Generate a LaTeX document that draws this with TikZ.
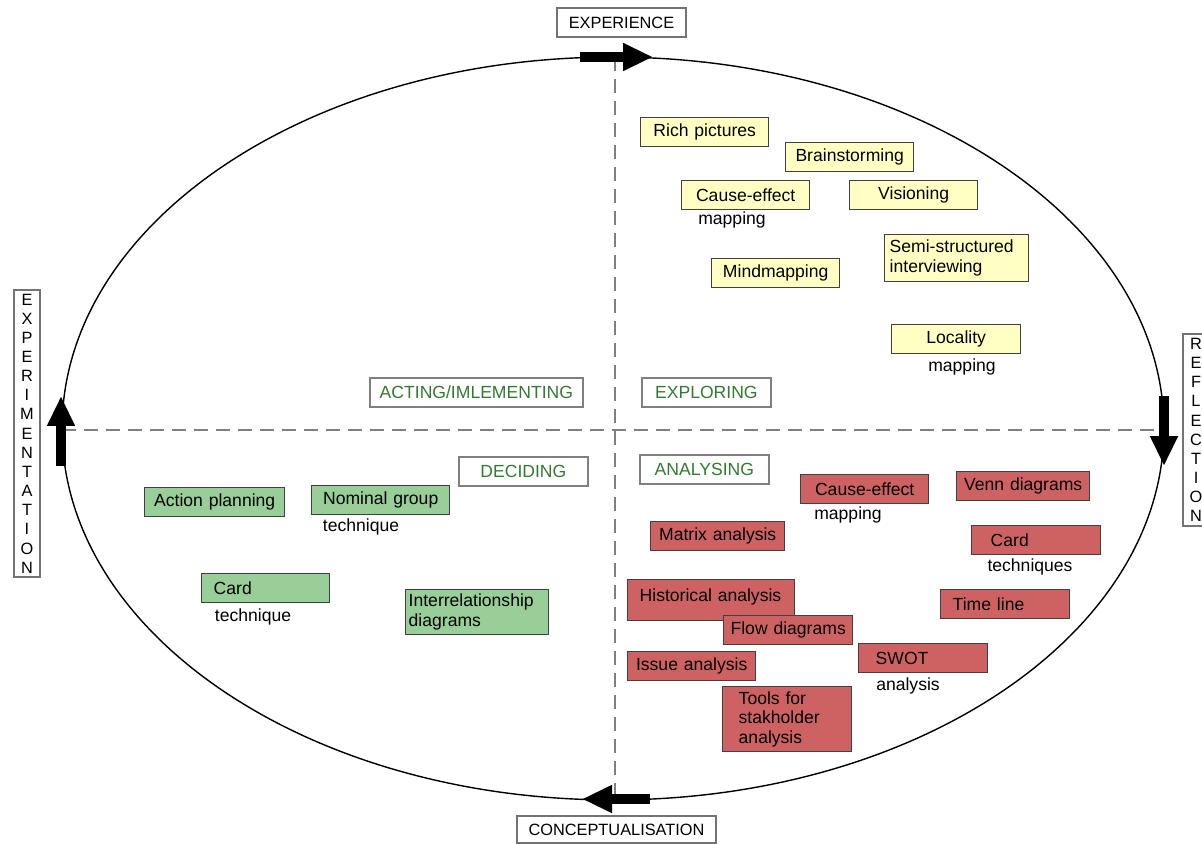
\documentclass[tikz,border=0pt]{standalone}
\usepackage{fontspec}
\setmainfont{Liberation Sans}
\usepackage{tikz}
\usetikzlibrary{positioning, arrows.meta}
\definecolor{yellowbox}{RGB}{255,255,196}
\definecolor{greenbox}{RGB}{152,206,152}
\definecolor{redbox}{RGB}{206,98,98}
\definecolor{stagegreen}{RGB}{50,122,50}
\tikzstyle{Tool} = [rectangle, draw=black!75, line width=0.8pt, anchor=north west, minimum height=0.58cm, inner xsep=0.1cm, inner ysep=0.05cm, font=\fontsize{10}{11.2}\selectfont]
\tikzstyle{Explore} = [Tool, fill=yellowbox]
\tikzstyle{Decide} = [Tool, fill=greenbox]
\tikzstyle{Analyse} = [Tool, fill=redbox]
\tikzstyle{Stage} = [rectangle, draw=black!50, line width=1pt, fill=white, anchor=north west, minimum height=0.58cm, inner xsep=0.1cm, text=stagegreen, font=\fontsize{10}{11}\selectfont]
\tikzstyle{Axis} = [rectangle, draw=black!55, line width=0.9pt, fill=white, inner sep=0.08cm, font=\fontsize{9.3}{10.9}\selectfont]
\tikzstyle{Note} = [inner sep=0pt, font=\fontsize{10}{11}\selectfont]
\tikzstyle{Cycle} = [line width=0.2cm, -{Triangle[length=0.6cm, width=0.52cm]}]

\begin{document}
\begin{tikzpicture}[x=0.02cm, y=-0.02cm]
    \useasboundingbox (0,0) rectangle (1202,844);

    %%%%%%%%%%%%%%%%%%%%%%
    \draw [black!50, line width=1.1pt, dash pattern=on 0.28cm off 0.16cm] (615,57) -- (615,800);
    \draw [black!50, line width=1.1pt, dash pattern=on 0.28cm off 0.16cm] (62,430) -- (1165,430);
    \draw [line width=0.8pt] (613,428.5) ellipse [x radius=11.02cm, y radius=7.43cm];

    \coordinate (topA) at (580,57);
    \coordinate (topB) at (653,57);
    \coordinate (botA) at (650,799);
    \coordinate (botB) at (582,799);
    \coordinate (leftA) at (61,466);
    \coordinate (leftB) at (61,396);
    \coordinate (rightA) at (1164,396);
    \coordinate (rightB) at (1164,466);
    \draw[Cycle] (topA) to (topB);
    \draw[Cycle] (rightA) to (rightB);
    \draw[Cycle] (botA) to (botB);
    \draw[Cycle] (leftA) to (leftB);

    \node[Axis, minimum width=2.58cm, minimum height=0.58cm] (experience) at (621.5,22.5) {EXPERIENCE};
    \node[Axis, minimum width=3.98cm, minimum height=0.54cm] (concept) at (616.5,829.5) {CONCEPTUALISATION};
    \node[Axis, minimum width=0.52cm, align=center] (experiment) at (27,433.5) {E\\X\\P\\E\\R\\I\\M\\E\\N\\T\\A\\T\\I\\O\\N};
    \node[Axis, minimum width=0.52cm, align=center] (reflect) at (1196,430) {R\\E\\F\\L\\E\\C\\T\\I\\O\\N};

    %%%%%%%%%%%%%%%%%%%%%%
    \node[Stage, minimum width=4.26cm, text width=4.06cm, align=center] (acting) at (369,377) {ACTING/IMLEMENTING};
    \node[Stage, minimum width=2.58cm, text width=2.38cm, align=center] (exploring) at (641,377) {EXPLORING};
    \node[Stage, minimum width=2.58cm, text width=2.38cm, align=center] (deciding) at (458,456) {DECIDING};
    \node[Stage, minimum width=2.58cm, text width=2.38cm, align=center] (analysing) at (639,454) {ANALYSING};

    %%%%%%%%%%%%%%%%%%%%%%
    \node[Explore, text width=2.36cm, align=center] (rich) at (640,117) {Rich pictures};
    \node[Explore, text width=2.36cm, align=center] (brain) at (785,142) {Brainstorming};
    \node[Explore, text width=2.36cm, align=center] (cause1) at (681,180) {Cause-effect};
    \node[Note] (cause1map) at (732,220) {mapping};
    \node[Explore, text width=2.36cm, align=center] (vision) at (849,180) {Visioning};
    \node[Explore, text width=2.68cm, align=left, minimum height=0.94cm] (semi) at (884,234) {Semi-structured\\interviewing};
    \node[Explore, text width=2.36cm, align=center] (mind) at (711,258) {Mindmapping};
    \node[Explore, text width=2.38cm, align=center] (local) at (891,324) {Locality};
    \node[Note] (localmap) at (962,367) {mapping};

    %%%%%%%%%%%%%%%%%%%%%%
    \node[Decide, text width=2.6cm, align=center] (action) at (144,487) {Action planning};
    \node[Decide, text width=2.56cm, align=center] (nominal) at (311,485) {Nominal group};
    \node[Note] (nominaltech) at (361,527) {technique};
    \node[Decide, inner xsep=0.24cm, text width=2.08cm, align=left] (card1) at (201,573) {Card};
    \node[Note] (card1tech) at (253,617) {technique};
    \node[Decide, inner xsep=0.06cm, text width=2.74cm, align=left, minimum height=0.9cm] (inter) at (405,589) {Interrelationship\\diagrams};

    %%%%%%%%%%%%%%%%%%%%%%
    \node[Analyse, text width=2.36cm, align=center] (cause2) at (800,474) {Cause-effect};
    \node[Note] (cause2map) at (848,515) {mapping};
    \node[Analyse, text width=2.46cm, align=center] (venn) at (956,471) {Venn diagrams};
    \node[Analyse, text width=2.48cm, align=center] (matrix) at (650,521) {Matrix analysis};
    \node[Analyse, inner xsep=0.38cm, text width=1.82cm, align=left] (card2) at (971,525) {Card};
    \node[Note] (card2tech) at (1030,567) {techniques};
    \node[Analyse, inner xsep=0.24cm, text width=2.86cm, align=left, text height=11pt, text depth=9.4pt] (hist) at (627,579) {Historical analysis};
    \node[Analyse, text width=2.38cm, align=center] (flow) at (723,615) {Flow diagrams};
    \node[Analyse, inner xsep=0.24cm, text width=2.1cm, align=left] (time) at (940,589) {Time line};
    \node[Analyse, inner xsep=0.34cm, text width=1.9cm, align=left] (swot) at (858,643) {SWOT};
    \node[Note] (swotan) at (908,686) {analysis};
    \node[Analyse, text width=2.36cm, align=center] (issue) at (627,651) {Issue analysis};
    \node[Analyse, inner xsep=0.32cm, text width=1.94cm, align=left, minimum height=1.3cm] (stake) at (722,686) {Tools for\\stakholder\\analysis};

\end{tikzpicture}
\end{document}
